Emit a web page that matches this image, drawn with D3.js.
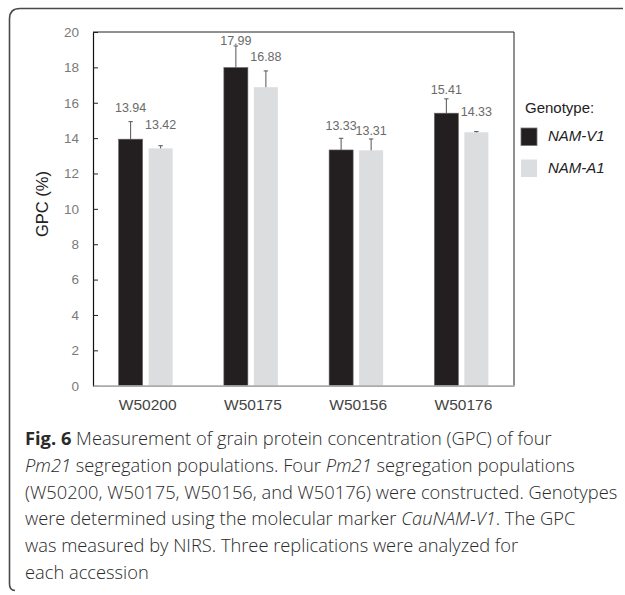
<!DOCTYPE html>
<html>
<head>
<meta charset="utf-8">
<script src="https://cdn.jsdelivr.net/npm/d3@7"></script>
<style>
  html, body { margin: 0; padding: 0; background: #fff; }
  svg { display: block; }
</style>
</head>
<body>
<script>
// ---- data ----
const categories = ["W50200", "W50175", "W50156", "W50176"];
const series = ["NAM-V1", "NAM-A1"];
const valuesV1 = [13.94, 17.99, 13.33, 15.41];
const valuesA1 = [13.42, 16.88, 13.31, 14.33];
const errorsV1 = [0.99, 1.22, 0.66, 0.81];
const errorsA1 = [0.15, 0.92, 0.64, 0.04];
const yTicks = [0, 2, 4, 6, 8, 10, 12, 14, 16, 18, 20];

// ---- layout ----
const W = 625, H = 595;
const plot = { left: 93, right: 514, top: 32, bottom: 385.7 };
const colors = { "NAM-V1": "#231f20", "NAM-A1": "#dcdddf" };
// gap (px) between error-bar cap and its value label, per group/series
const labelGap = [[10, 16.5], [1, 10], [8, 4], [5, 16]];

const svg = d3.select("body").append("svg").attr("width", W).attr("height", H);

// outer frame (top + left with rounded corners)
svg.append("path")
  .attr("d", "M15,590.5 Q9.5,590.5 9.5,584 L9.5,19 Q9.5,8.5 20,8.5 L623,8.5")
  .attr("fill", "none").attr("stroke", "#4a4a4a").attr("stroke-width", 1.6);

const y = d3.scaleLinear().domain([0, 20]).range([plot.bottom, plot.top]);
const x0 = d3.scaleBand().domain(categories).range([plot.left, plot.right]).padding(0);
const x1 = d3.scaleBand().domain(series).range([0, x0.bandwidth()])
  .paddingInner(0.2).paddingOuter(0.854);

const rows = categories.map((c, i) => ({
  cat: c, i,
  bars: [
    { s: "NAM-V1", v: valuesV1[i], e: errorsV1[i], gap: labelGap[i][0] },
    { s: "NAM-A1", v: valuesA1[i], e: errorsA1[i], gap: labelGap[i][1] }
  ]
}));

// plot frame top & right
svg.append("line").attr("x1", plot.left).attr("x2", plot.right)
  .attr("y1", plot.top).attr("y2", plot.top).attr("stroke", "#222").attr("stroke-width", 1);
svg.append("line").attr("x1", plot.right).attr("x2", plot.right)
  .attr("y1", plot.top).attr("y2", plot.bottom).attr("stroke", "#222").attr("stroke-width", 1);

// bars
const g = svg.append("g");
const groups = g.selectAll("g.grp").data(rows).join("g")
  .attr("transform", d => `translate(${x0(d.cat)},0)`);

groups.selectAll("rect").data(d => d.bars).join("rect")
  .attr("x", d => x1(d.s)).attr("width", x1.bandwidth())
  .attr("y", d => y(d.v)).attr("height", d => y(0) - y(d.v))
  .attr("fill", d => colors[d.s])
  .attr("stroke", d => d.s === "NAM-V1" ? "#666" : "none")
  .attr("stroke-width", 0.6);

// error bars (upper only)
groups.selectAll("g.err").data(d => d.bars).join("g").attr("class", "err")
  .each(function(d) {
    const cx = x1(d.s) + x1.bandwidth() / 2;
    const sel = d3.select(this);
    sel.append("line").attr("x1", cx).attr("x2", cx)
      .attr("y1", y(d.v)).attr("y2", y(d.v + d.e))
      .attr("stroke", "#555").attr("stroke-width", 1);
    sel.append("line").attr("x1", cx - 2.2).attr("x2", cx + 2.2)
      .attr("y1", y(d.v + d.e)).attr("y2", y(d.v + d.e))
      .attr("stroke", "#555").attr("stroke-width", 1);
  });

// value labels
groups.selectAll("text.val").data(d => d.bars).join("text").attr("class", "val")
  .attr("x", d => x1(d.s) + x1.bandwidth() / 2)
  .attr("y", d => y(d.v + d.e) - d.gap)
  .attr("text-anchor", "middle")
  .attr("font-family", "Liberation Sans, Arial, sans-serif")
  .attr("font-size", 12.5).attr("fill", "#6a6a6a")
  .text(d => d.v.toFixed(2));

// y axis
const yAxis = d3.axisLeft(y).tickValues(yTicks).tickSizeInner(-5).tickSizeOuter(0).tickPadding(14);
const ya = svg.append("g").attr("transform", `translate(${plot.left},0)`).call(yAxis);
ya.select(".domain").attr("stroke", "#111").attr("stroke-width", 1.2);
ya.selectAll(".tick line").attr("stroke", "#222");
ya.selectAll(".tick text").attr("font-family", "Liberation Sans, Arial, sans-serif")
  .attr("font-size", 13.5).attr("fill", "#7a7a7a");

// x axis
const xAxis = d3.axisBottom(x0).tickSize(0).tickPadding(13);
const xa = svg.append("g").attr("transform", `translate(0,${plot.bottom})`).call(xAxis);
xa.select(".domain").attr("stroke", "#aaa").attr("stroke-width", 1.8);
xa.selectAll(".tick text").attr("font-family", "Liberation Sans, Arial, sans-serif")
  .attr("font-size", 15.5).attr("fill", "#444").attr("dx", 2);

// y label
svg.append("text")
  .attr("transform", "translate(48,204) rotate(-90)")
  .attr("text-anchor", "middle")
  .attr("font-family", "Liberation Sans, Arial, sans-serif")
  .attr("font-size", 16.5).attr("fill", "#222")
  .text("GPC (%)");

// legend
const lg = svg.append("g");
lg.append("text").attr("x", 525).attr("y", 113)
  .attr("font-family", "Liberation Sans, Arial, sans-serif")
  .attr("font-size", 15).attr("fill", "#222").text("Genotype:");
series.forEach((s, i) => {
  const yy = 128 + i * 31.5;
  lg.append("rect").attr("x", 521).attr("y", yy).attr("width", 16).attr("height", 17.5)
    .attr("fill", colors[s]).attr("stroke", i === 0 ? "#777" : "none").attr("stroke-width", 0.8);
  lg.append("text").attr("x", 548).attr("y", yy + 13)
    .attr("font-family", "Liberation Sans, Arial, sans-serif")
    .attr("font-style", "italic")
    .attr("font-size", 15).attr("fill", "#222").text(s);
});

// caption
const capLines = [
  [["b", "Fig. 6"], ["n", " Measurement of grain protein concentration (GPC) of four"]],
  [["i", "Pm21"], ["n", " segregation populations. Four "], ["i", "Pm21"], ["n", " segregation populations"]],
  [["n", "(W50200, W50175, W50156, and W50176) were constructed. Genotypes"]],
  [["n", "were determined using the molecular marker "], ["i", "CauNAM-V1"], ["n", ". The GPC"]],
  [["n", "was measured by NIRS. Three replications were analyzed for"]],
  [["n", "each accession"]]
];
const cap = svg.append("text")
  .attr("font-family", "Open Sans, Noto Sans, sans-serif")
  .attr("font-size", 18.3).attr("fill", "#2a2a2a").attr("font-weight", 300);
capLines.forEach((line, li) => {
  line.forEach(([t, s], k) => {
    const ts = cap.append("tspan").text(s);
    if (k === 0) ts.attr("x", 25).attr("y", 445 + li * 26.8);
    if (t === "b") ts.attr("font-weight", 700);
    if (t === "i") ts.attr("font-style", "italic");
  });
});
</script>
</body>
</html>
